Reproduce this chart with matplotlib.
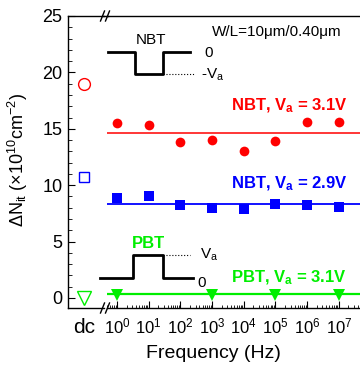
import matplotlib
matplotlib.use("Agg")
import matplotlib.pyplot as plt
from matplotlib.lines import Line2D
from matplotlib.ticker import LogLocator, NullFormatter, FixedLocator

plt.rcParams['font.family'] = ['Liberation Sans', 'DejaVu Sans']
plt.rcParams['mathtext.fontset'] = 'custom'
plt.rcParams['mathtext.rm'] = 'Liberation Sans'
plt.rcParams['mathtext.it'] = 'Liberation Sans:italic'
plt.rcParams['mathtext.bf'] = 'Liberation Sans:bold'

# ---- data ----
freq = [1, 10, 100, 1e3, 1e4, 1e5, 1e6, 1e7]
nbt31 = [15.5, 15.3, 13.85, 14.0, 13.05, 13.95, 15.6, 15.6]
nbt29 = [8.84, 9.04, 8.24, 7.95, 7.86, 8.33, 8.27, 8.1]
pbt_freq = [1, 1e3, 1e5, 1e7]
pbt31 = [0.25, 0.25, 0.25, 0.25]
dc_nbt31 = 19.0
dc_nbt29 = 10.7
dc_pbt31 = 0.0
avg_nbt31 = 14.65
avg_nbt29 = 8.33
avg_pbt31 = 0.33

RED = '#ff0000'
BLUE = '#0000ff'
GREEN = '#00ee00'

W, H = 360, 370
fig = plt.figure(figsize=(W / 100, H / 100), dpi=100)

def fx(x):
    return x / W

def fy(y):
    return 1 - y / H

ax_top, ax_bot = 16, 308
axL = fig.add_axes([fx(68), fy(ax_bot), fx(104) - fx(68), fy(ax_top) - fy(ax_bot)])
axR = fig.add_axes([fx(107), fy(ax_bot), fx(362) - fx(107), fy(ax_top) - fy(ax_bot)])

ylim = (-0.89, 25)
for ax in (axL, axR):
    ax.set_ylim(*ylim)
    ax.spines['right'].set_visible(False)
    ax.patch.set_visible(False)
    for s in ax.spines.values():
        s.set_linewidth(1.0)

# left (dc) axes
axL.set_xlim(-0.444, 0.556)
axL.set_xticks([0])
axL.set_xticklabels(['dc'], fontsize=15)
axL.tick_params(axis='x', length=0, pad=7)
axL.set_yticks([0, 5, 10, 15, 20, 25])
axL.yaxis.set_minor_locator(FixedLocator([i for i in range(0, 26)]))
axL.tick_params(axis='y', which='major', direction='in', length=5, labelsize=13, pad=4)
axL.tick_params(axis='y', which='minor', direction='in', length=3)
axL.tick_params(top=False, right=False)

axL.plot([0], [dc_nbt31], 'o', mfc='none', mec=RED, ms=8.5, mew=1.0, clip_on=False)
axL.plot([0], [dc_nbt29], 's', mfc='none', mec=BLUE, ms=7.5, mew=1.0, clip_on=False)
axL.plot([0], [dc_pbt31], 'v', mfc='none', mec=GREEN, ms=10, mew=1.0, clip_on=False)

# right (frequency) axes
axR.set_xscale('log')
axR.set_xlim(10 ** -0.315, 10 ** 7.729)
axR.spines['left'].set_visible(False)
axR.set_yticks([])
axR.xaxis.set_major_locator(FixedLocator(freq))
axR.set_xticklabels([r'$10^{%d}$' % i for i in range(8)])
axR.xaxis.set_minor_locator(LogLocator(base=10, subs=range(2, 10), numticks=20))
axR.xaxis.set_minor_formatter(NullFormatter())
axR.tick_params(axis='x', which='major', direction='in', length=5, labelsize=12, pad=6)
axR.tick_params(axis='x', which='minor', direction='in', length=2.5)

axR.axhline(avg_nbt31, color=RED, lw=1.1)
axR.axhline(avg_nbt29, color=BLUE, lw=1.3)
axR.axhline(avg_pbt31, color=GREEN, lw=1.6)
axR.plot(freq, nbt31, 'o', color=RED, ms=7, mew=0, clip_on=False)
axR.plot(freq, nbt29, 's', color=BLUE, ms=6.8, mew=0, clip_on=False)
axR.plot(pbt_freq, pbt31, 'v', color=GREEN, ms=9, mew=0, clip_on=False)

# axis break marks and top connector
def fline(xs, ys, **kw):
    fig.add_artist(Line2D([fx(x) for x in xs], [fy(y) for y in ys], **kw))

fline([103, 108], [ax_top, ax_top], color='k', lw=1.0)
for y0 in (ax_top, ax_bot):
    fline([100.5, 104.5], [y0 + 5, y0 - 5], color='k', lw=1.0)
    fline([105.5, 109.5], [y0 + 5, y0 - 5], color='k', lw=1.0)

# waveform annotations
fline([108, 135, 135, 163, 163, 190], [52, 52, 74, 74, 52, 52], color='k', lw=2.0)
fline([163, 195], [74, 74], color='k', lw=0.8, ls=':')
fig.text(fx(151), fy(40), 'NBT', fontsize=11, ha='center', va='center')
fig.text(fx(209), fy(53), '0', fontsize=11, ha='center', va='center')
fig.text(fx(201), fy(75), r'-V$_{\mathrm{a}}$', fontsize=11, ha='left', va='center')

fline([100, 133, 133, 163, 163, 193], [278, 278, 255, 255, 278, 278], color='k', lw=2.0)
fline([163, 190], [255, 255], color='k', lw=0.8, ls=':')
fig.text(fx(148), fy(243), 'PBT', fontsize=12, fontweight='bold', color=GREEN, ha='center', va='center')
fig.text(fx(200), fy(255), r'V$_{\mathrm{a}}$', fontsize=11, ha='left', va='center')
fig.text(fx(202), fy(283), '0', fontsize=11, ha='center', va='center')

fig.text(fx(212), fy(32), 'W/L=10\u03bcm/0.40\u03bcm', fontsize=11, ha='left', va='center')

fig.text(fx(231), fy(110), r'NBT, V$_{\mathbf{a}}$ = 3.1V', fontsize=12, fontweight='bold',
         color=RED, ha='left', va='baseline')
fig.text(fx(231), fy(188), r'NBT, V$_{\mathbf{a}}$ = 2.9V', fontsize=12, fontweight='bold',
         color=BLUE, ha='left', va='baseline')
fig.text(fx(231), fy(282), r'PBT, V$_{\mathbf{a}}$ = 3.1V', fontsize=12, fontweight='bold',
         color=GREEN, ha='left', va='baseline')

fig.text(fx(213), fy(353), 'Frequency (Hz)', fontsize=14, ha='center', va='center')
fig.text(fx(18), fy(160), r'$\Delta$N$_{\mathrm{it}}$ ($\times$10$^{10}$cm$^{-2}$)', fontsize=13,
         rotation=90, ha='center', va='center')

fig.savefig('out.png', dpi=100)
